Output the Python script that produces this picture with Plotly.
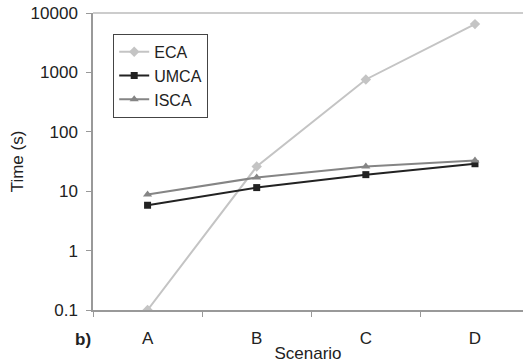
import plotly.graph_objects as go

categories = ["A", "B", "C", "D"]
eca = [0.1, 26, 760, 6500]
umca = [5.8, 11.5, 19, 29]
isca = [8.8, 17, 26, 33]
y_ticks = [0.1, 1, 10, 100, 1000, 10000]
y_tick_text = ["0.1", "1", "10", "100", "1000", "10000"]

fig = go.Figure()
fig.add_trace(go.Scatter(x=categories, y=eca, name="ECA", mode="lines+markers",
                         line=dict(color="#c4c4c4", width=2),
                         marker=dict(symbol="diamond", size=8, color="#c4c4c4")))
fig.add_trace(go.Scatter(x=categories, y=umca, name="UMCA", mode="lines+markers",
                         line=dict(color="#222222", width=2),
                         marker=dict(symbol="square", size=7, color="#222222")))
fig.add_trace(go.Scatter(x=categories, y=isca, name="ISCA", mode="lines+markers",
                         line=dict(color="#858585", width=2),
                         marker=dict(symbol="triangle-up", size=8, color="#858585")))

font = "Liberation Sans, Arial, sans-serif"
fig.update_layout(
    width=523, height=364,
    margin=dict(l=93, r=0, t=13, b=54),
    paper_bgcolor="white", plot_bgcolor="white",
    font=dict(family=font, size=17, color="#222222"),
    showlegend=True,
    legend=dict(x=0.047, y=0.93, xanchor="left", yanchor="top",
                bordercolor="#444444", borderwidth=1, bgcolor="white",
                font=dict(size=16), tracegroupgap=0, itemwidth=30),
    xaxis=dict(type="category", range=[-0.5, 3.44], showgrid=False, automargin=False,
               showline=True, linecolor="#999999", linewidth=1.5,
               ticks="outside", tickson="boundaries", ticklen=5, tickcolor="#999999",
               tickfont=dict(size=17), ticklabelstandoff=12,
               title=dict(text="Scenario", font=dict(size=17), standoff=0)),
    yaxis=dict(type="log", range=[-1, 4], showgrid=False, automargin=False,
               tickvals=y_ticks, ticktext=y_tick_text,
               showline=True, linecolor="#999999", linewidth=1.5,
               ticks="outside", ticklen=5, tickcolor="#999999",
               tickfont=dict(size=17), ticklabelstandoff=5,
               title=dict(text="Time (s)", font=dict(size=17), standoff=3)),
)
fig.add_shape(type="line", xref="paper", yref="paper", x0=0, x1=1, y0=1, y1=1,
              line=dict(color="#bbbbbb", width=1.5))
fig.add_annotation(text="<b>b)</b>", xref="paper", yref="paper", x=0.0, y=-0.101,
                   xanchor="right", yanchor="middle", showarrow=False,
                   font=dict(size=17, family=font, color="#222222"))

fig.write_html("out.html", config={"displayModeBar": False},
               post_script="document.body.style.margin='0';document.body.style.overflow='hidden';")
